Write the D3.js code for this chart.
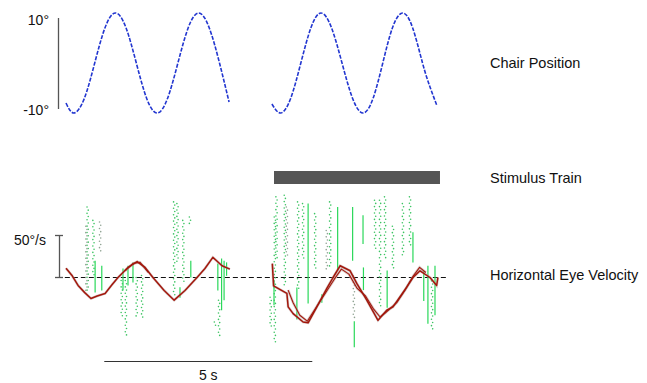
<!DOCTYPE html>
<html>
<head>
<meta charset="utf-8">
<script src="https://cdn.jsdelivr.net/npm/d3@7"></script>
<style>
  html, body { margin: 0; padding: 0; background: #fff; }
  svg { display: block; font-family: "Liberation Sans", Arial, Helvetica, sans-serif; }
</style>
</head>
<body>
<svg id="chart" width="647" height="383"></svg>
<script>
// chair position (deg) sampled along time (s), two recording blocks
const chairSeg1 = [
  [0.0, -8], [0.19, -10], [0.44, -7.1], [0.69, 0], [0.94, 7.1], [1.19, 10], [1.44, 7.1],
  [1.69, 0], [1.94, -7.1], [2.19, -10], [2.44, -7.1], [2.69, 0], [2.94, 7.1], [3.19, 10],
  [3.44, 7.1], [3.69, 0], [3.92, -7.8]
]
const chairSeg2 = [
  [4.95, -8.2], [5.16, -10], [5.40, -7.1], [5.645, 0], [5.89, 7.1], [6.13, 10], [6.38, 7.1],
  [6.635, 0], [6.89, -7.1], [7.14, -10], [7.38, -7.1], [7.615, 0], [7.85, 7.1], [8.09, 10],
  [8.33, 7.1], [8.57, 0], [8.75, -4.8], [8.92, -8.6]
]

// slow-phase horizontal eye velocity (deg/s)
const eyeSeg1 = [
  [0.0, 11], [0.15, 2], [0.29, -9.5], [0.45, -18], [0.6, -25], [0.75, -22], [0.94, -19],
  [1.1, -9], [1.25, 0], [1.49, 12], [1.71, 19], [1.9, 12], [2.09, 0], [2.36, -15.5],
  [2.6, -27], [2.86, -15.5], [3.15, 0], [3.34, 10.7], [3.53, 24], [3.62, 20], [3.75, 14],
  [3.94, 10]
]
const eyeSeg1Alt = [
  [1.42, 8], [1.62, 17], [1.78, 18], [1.98, 6]
]
const eyeSeg2 = [
  [4.96, 16.5], [4.99, -10], [5.31, -19], [5.34, -35], [5.46, -43], [5.7, -53], [5.82, -54],
  [6.03, -35], [6.27, -13], [6.42, 0], [6.59, 14], [6.83, 8], [6.99, -7], [7.23, -27],
  [7.5, -51], [7.71, -39], [7.86, -35], [8.19, -11.5], [8.34, 0], [8.51, 8], [8.75, 0],
  [8.91, -9.5], [8.94, 0]
]
const eyeSeg2Alt = [
  [5.34, -15], [5.46, -30], [5.62, -45], [5.8, -52], [6.45, -2], [6.62, 10], [6.8, 4],
  [7.0, -13], [7.2, -22], [7.4, -38], [7.55, -47], [7.68, -42], [7.95, -30], [8.15, -15],
  [8.35, 2], [8.5, 12], [8.65, 6]
]

// fast phases: [time, top velocity, bottom velocity, kind] d = dotted green, g = dotted grey, s = solid
const fastPhases = [
  [0.52, 84, -15.5, 'd'], [0.49, 61, -15.5, 'g'], [0.66, 68, 0, 'd'], [0.82, 66, 30, 'g'],
  [0.70, 20, -18, 's'], [0.86, 14, -15.5, 's'], [1.34, -3.6, -49, 'd'], [1.44, -3.6, -71, 'd'],
  [1.70, 0, -49, 'd'], [1.83, 2.4, -48, 'd'], [1.37, 10.7, -15.5, 's'], [1.49, 14, -9.5, 's'],
  [1.61, 18, -6, 's'], [2.60, 90, -23.5, 'd'], [2.68, 88, 16.7, 'd'], [2.82, 68, -7, 'd'],
  [2.98, 72, 64, 'd'], [3.0, 20, 0, 's'], [2.74, -11.5, -24, 's'], [3.74, 22.6, -39, 's'],
  [3.80, 20, -27, 's'], [3.68, -27, -69, 'd'], [3.58, -53, -60, 'd'], [3.86, 18, 2, 's'],
  [3.65, 16.7, -15.5, 's'],
  [4.92, -23.5, -59, 'd'], [5.02, 72, -77, 'd'], [5.06, 96, 20, 'd'], [5.0, -3.6, -33, 's'],
  [5.26, 98, -11.5, 'd'], [5.31, 84, 24, 'g'], [5.58, 90, -15.5, 'd'], [5.70, 88, 20, 'd'],
  [5.82, 88, -31, 's'], [5.99, 76, 8.3, 'd'], [6.27, 56, 8.3, 'g'], [6.35, 90, 12, 'd'],
  [6.53, 84, 8.3, 's'], [6.89, 84, 20, 's'], [6.92, 2, -50, 'g'], [6.93, -52, -83, 's'],
  [7.14, 74, 40, 's'], [7.15, 12, -15, 's'], [7.43, 92, 32, 'd'], [7.55, 92, -35, 'd'],
  [7.67, 96, 20, 'd'], [7.72, 8.3, -36, 's'], [7.86, 61, 8, 'd'], [8.10, 88, 24, 'd'],
  [8.27, 96, 36, 'd'], [8.34, 54, 18, 's'], [8.70, 14, -55, 's'], [8.80, -4, -63, 'd'],
  [8.87, 14, -45, 's'], [8.60, 8, -28, 's'], [5.55, -12, -50, 's'], [6.15, -20, -30, 's']
]

const stimulusTrain = [5.0, 8.99]
const timeScaleBar = [0.92, 5.92]
const chairTicks = [10, -10]
const eyeScaleTick = 50
const rowLabels = ['Chair Position', 'Stimulus Train', 'Horizontal Eye Velocity']

const svg = d3.select('#chart')

const x = d3.scaleLinear().domain([0, 10]).range([66, 482])
const yChair = d3.scaleLinear().domain([-10, 10]).range([113, 13])
const yEye = d3.scaleLinear().domain([0, 50]).range([277.5, 235.5])

// chair position
const chairLine = d3.line()
  .x(d => x(d[0]))
  .y(d => yChair(d[1]))
  .curve(d3.curveNatural)

svg.append('g')
  .selectAll('path')
  .data([chairSeg1, chairSeg2])
  .join('path')
  .attr('d', chairLine)
  .attr('fill', 'none')
  .attr('stroke', '#2236d0')
  .attr('stroke-width', 1.6)
  .attr('stroke-dasharray', '4,1.5')

svg.append('line')
  .attr('x1', 58.5).attr('x2', 58.5)
  .attr('y1', yChair(9)).attr('y2', yChair(-9.2))
  .attr('stroke', '#555')
  .attr('stroke-width', 1.3)

svg.append('g')
  .selectAll('text')
  .data(chairTicks)
  .join('text')
  .attr('x', 49)
  .attr('y', d => yChair(d * 0.9) + 7)
  .attr('text-anchor', 'end')
  .attr('font-size', '14px')
  .attr('fill', '#111')
  .text(d => `${d}°`)

// stimulus train
svg.append('rect')
  .attr('x', x(stimulusTrain[0]))
  .attr('y', 171)
  .attr('width', x(stimulusTrain[1]) - x(stimulusTrain[0]))
  .attr('height', 13)
  .attr('fill', '#555')

// eye velocity
svg.append('line')
  .attr('x1', x(-0.22)).attr('x2', x(9.16))
  .attr('y1', yEye(0)).attr('y2', yEye(0))
  .attr('stroke', '#111')
  .attr('stroke-width', 1.2)
  .attr('stroke-dasharray', '5,3')

const fastG = svg.append('g')
fastPhases.forEach(([t, top, bottom, kind]) => {
  const px = x(t)
  const y0 = yEye(top)
  const y1 = yEye(bottom)
  if (kind === 's') {
    fastG.append('line')
      .attr('x1', px).attr('x2', px)
      .attr('y1', y0).attr('y2', y1)
      .attr('stroke', '#2ad85a')
      .attr('stroke-width', 1.2)
    return
  }
  const steps = d3.range(y0, y1, 3.2)
  fastG.selectAll(null)
    .data(steps)
    .join('circle')
    .attr('cx', (d, i) => px + (i % 2 ? 0.6 : -0.6))
    .attr('cy', d => d)
    .attr('r', 0.8)
    .attr('fill', kind === 'g' ? '#8fa392' : '#3cc462')
})

const eyeLine = d3.line()
  .x(d => x(d[0]))
  .y(d => yEye(d[1]))

const traces = svg.append('g')
traces.selectAll('path.under')
  .data([eyeSeg1, eyeSeg2, eyeSeg1Alt, eyeSeg2Alt])
  .join('path')
  .attr('class', 'under')
  .attr('d', eyeLine)
  .attr('fill', 'none')
  .attr('stroke', '#b39a96')
  .attr('stroke-width', 2.6)
  .attr('opacity', 0.5)

traces.selectAll('path.trace')
  .data([eyeSeg1, eyeSeg2, eyeSeg1Alt, eyeSeg2Alt])
  .join('path')
  .attr('class', 'trace')
  .attr('d', eyeLine)
  .attr('fill', 'none')
  .attr('stroke', '#a3170c')
  .attr('stroke-width', (d, i) => i < 2 ? 1.5 : 1.1)
  .attr('stroke-linejoin', 'round')

// 50 deg/s scale bar
const bar = svg.append('g').attr('stroke', '#555').attr('stroke-width', 1.3)
bar.append('line')
  .attr('x1', 59.5).attr('x2', 59.5)
  .attr('y1', yEye(eyeScaleTick)).attr('y2', yEye(0))
bar.append('line')
  .attr('x1', 55).attr('x2', 63)
  .attr('y1', yEye(eyeScaleTick)).attr('y2', yEye(eyeScaleTick))
bar.append('line')
  .attr('x1', 55).attr('x2', 63)
  .attr('y1', yEye(0)).attr('y2', yEye(0))

svg.append('text')
  .attr('x', 46)
  .attr('y', yEye(eyeScaleTick) + 9)
  .attr('text-anchor', 'end')
  .attr('font-size', '14px')
  .attr('fill', '#111')
  .text(`${eyeScaleTick}°/s`)

// 5 s time bar
svg.append('line')
  .attr('x1', x(timeScaleBar[0])).attr('x2', x(timeScaleBar[1]))
  .attr('y1', 361.5).attr('y2', 361.5)
  .attr('stroke', '#333')
  .attr('stroke-width', 1.2)

svg.append('text')
  .attr('x', (x(timeScaleBar[0]) + x(timeScaleBar[1])) / 2)
  .attr('y', 380)
  .attr('text-anchor', 'middle')
  .attr('font-size', '14px')
  .attr('fill', '#111')
  .text(`${timeScaleBar[1] - timeScaleBar[0]} s`)

// row labels
svg.append('g')
  .selectAll('text')
  .data(rowLabels)
  .join('text')
  .attr('x', 490)
  .attr('y', (d, i) => [63, 178, 275][i] + 5)
  .attr('font-size', '14.5px')
  .attr('fill', '#111')
  .text(d => d)
</script>
</body>
</html>
